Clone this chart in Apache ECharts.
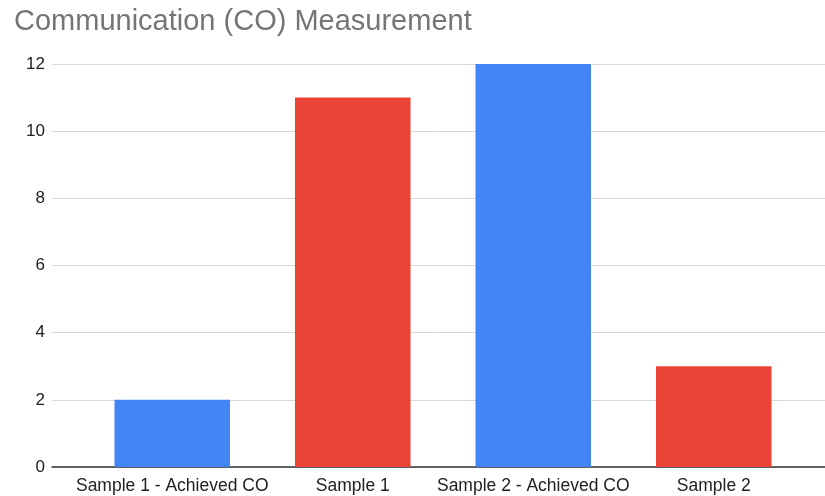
<!DOCTYPE html>
<html><head><meta charset="utf-8">
<script src="https://cdn.jsdelivr.net/npm/echarts@6/dist/echarts.min.js"></script>
<style>html,body{margin:0;padding:0;background:#fff}#c{width:825px;height:496px}</style>
</head><body><div id="c"></div>
<script>
const categories = ["Sample 1 - Achieved CO", "Sample 1", "Sample 2 - Achieved CO", "Sample 2"];
const values = [2, 11, 12, 3];
const barColors = ["#4285F4", "#EA4335", "#4285F4", "#EA4335"];
const yTicks = [0, 2, 4, 6, 8, 10, 12];

const chart = echarts.init(document.getElementById('c'));
const gridTop = 64, gridBottom = 496 - 467;
const font = "Liberation Sans, Arial";
chart.setOption({
  animation: false,
  title: { text: "Communication (CO) Measurement", left: 9, top: 2,
    textStyle: { fontFamily: font, fontSize: 29, fontWeight: "normal", color: "#757575" } },
  grid: [
    { left: 52, right: 0, top: gridTop, bottom: gridBottom },
    { left: 82, right: 21, top: gridTop, bottom: gridBottom }
  ],
  xAxis: [
    { type: 'value', gridIndex: 0, min: 0, max: 1,
      axisLine: { show: true, onZero: false, lineStyle: { color: "#333", width: 1.5 } },
      axisTick: { show: false }, axisLabel: { show: false }, splitLine: { show: false } },
    { type: 'category', gridIndex: 1, data: categories,
      axisLine: { show: false },
      axisTick: { show: false },
      axisLabel: { color: "#222", fontFamily: font, fontSize: 17.5, margin: 10, interval: 0 } }
  ],
  yAxis: [
    { type: 'value', gridIndex: 0, min: yTicks[0], max: yTicks[yTicks.length - 1], interval: 2,
      axisLine: { show: false }, axisTick: { show: false },
      splitLine: { lineStyle: { color: "#d9d9d9", width: 1 } },
      axisLabel: { color: "#222", fontFamily: font, fontSize: 17, margin: 7 } },
    { type: 'value', gridIndex: 1, min: yTicks[0], max: yTicks[yTicks.length - 1], interval: 2, show: false }
  ],
  series: [{
    type: 'bar', xAxisIndex: 1, yAxisIndex: 1, barWidth: '64%',
    data: values.map((v, i) => ({ value: v, itemStyle: { color: barColors[i] } }))
  }]
});
</script></body></html>
